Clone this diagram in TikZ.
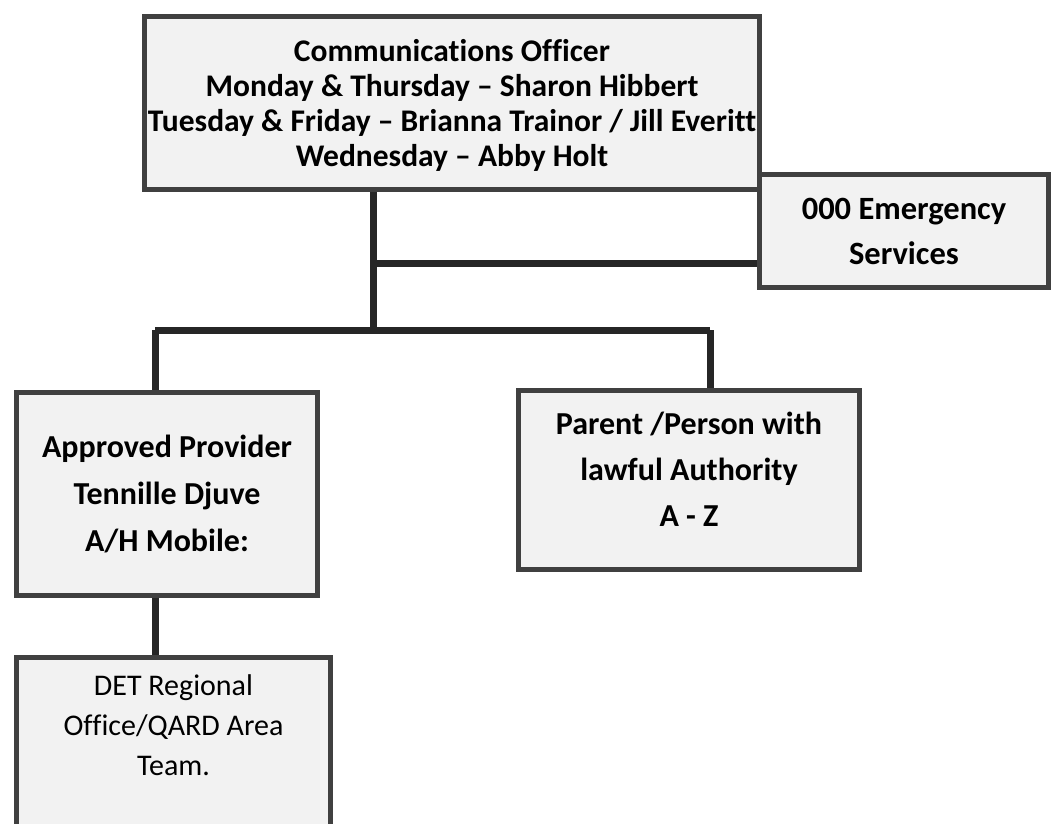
\documentclass[tikz,border=0pt]{standalone}
\usepackage{fontspec}
\setmainfont{Carlito}[Ligatures=CommonOff]
\usetikzlibrary{positioning}
\definecolor{boxline}{HTML}{404040}
\definecolor{boxfill}{HTML}{F2F2F2}
\definecolor{linkcol}{HTML}{262626}
\begin{document}
\begin{tikzpicture}[x=1pt,y=-1pt,
    orgbox/.style={draw=boxline,line width=5pt,fill=boxfill,inner sep=0pt,align=center},
    link/.style={draw=linkcol,line width=7pt}]
    \useasboundingbox (0,0) rectangle (1054,823);
    \clip (0,0) rectangle (1054,823);
    % boxes
    \node[orgbox,minimum width=615pt,minimum height=173pt] (officer) at (452,103) {};
    \node[align=center,font=\fontsize{31.5}{35}\selectfont\bfseries] (officertext) at ([yshift=-2pt]officer.center)
        {Communications Officer\\Monday \& Thursday -- Sharon Hibbert\\Tuesday \& Friday -- Brianna Trainor / Jill Everitt\\Wednesday -- Abby Holt};
    \node[orgbox,minimum width=289pt,minimum height=113pt,font=\fontsize{32.5}{45}\selectfont\bfseries] (emergency) at (904,231)
        {000 Emergency\\Services};
    \node[orgbox,minimum width=301pt,minimum height=203pt,font=\fontsize{32}{47}\selectfont\bfseries] (provider) at (167,494)
        {Approved Provider\\Tennille Djuve\\A/H Mobile:};
    \node[orgbox,minimum width=341pt,minimum height=179pt] (parent) at (689,480) {};
    \node[align=center,font=\fontsize{32}{46}\selectfont\bfseries] (parenttext) at ([yshift=11pt]parent.center)
        {Parent /Person with\\lawful Authority\\A - Z};
    \node[orgbox,minimum width=314pt,minimum height=250pt,anchor=north] (det) at (173.5,654.5) {};
    \node[align=center,font=\fontsize{30}{40}\selectfont,below=17pt of det.north] (dettext)
        {DET Regional\\Office/QARD Area\\Team.};
    % connectors
    \coordinate (hub) at (373,330);
    \coordinate (tee) at (373,263);
    \coordinate (barL) at (155,330);
    \coordinate (barR) at (710,330);
    \draw[link] (officer.south -| hub) -- (hub);
    \draw[link] (tee) -- (tee -| emergency.west);
    \draw[link] (barL) -- (barR);
    \draw[link] (barL) -- (barL |- provider.north);
    \draw[link] (barR) -- (barR |- parent.north);
    \draw[link] (barL |- provider.south) -- (barL |- det.north);
\end{tikzpicture}
\end{document}
